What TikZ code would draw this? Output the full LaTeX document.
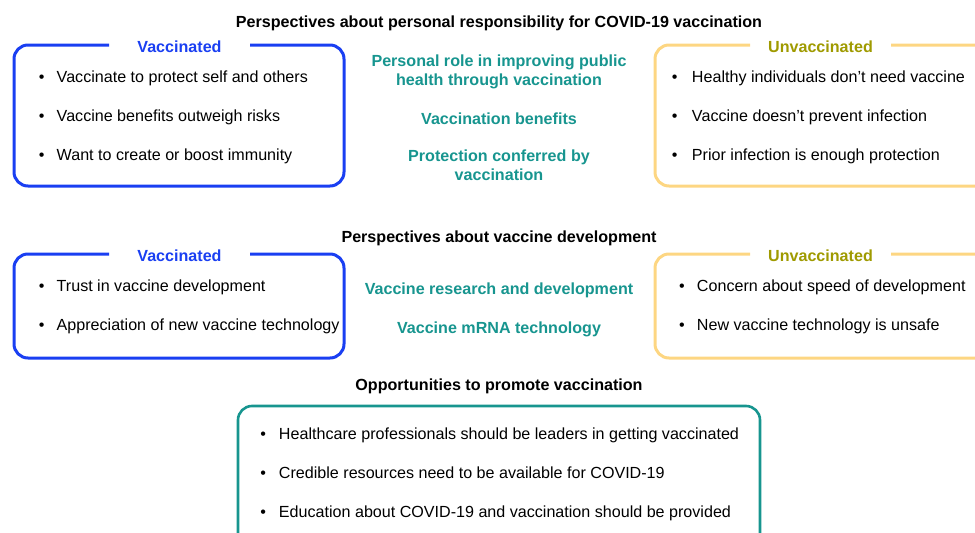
\documentclass[tikz,border=0pt]{standalone}
\usepackage{fontspec}
\setmainfont{Liberation Sans}
\definecolor{vblue}{HTML}{1A3FF2}
\definecolor{uyellow}{HTML}{FDD682}
\definecolor{uolive}{HTML}{9F9A00}
\definecolor{tealc}{HTML}{17958F}
\newcommand{\bul}[1][12.2pt]{\llap{\textbullet\hspace{#1}}}
\begin{document}
\begin{tikzpicture}[x=1pt,y=-1pt,
  every node/.style={inner sep=0pt, outer sep=0pt, font=\fontsize{16.1}{19}\selectfont},
  titletext/.style={anchor=base, font=\fontsize{16.1}{19}\selectfont\bfseries, text=black},
  themetext/.style={anchor=base, font=\fontsize{16.1}{19}\selectfont\bfseries, text=tealc},
  vlabel/.style={anchor=base, font=\fontsize{16.1}{19}\selectfont\bfseries, text=vblue},
  ulabel/.style={anchor=base, font=\fontsize{16.1}{19}\selectfont\bfseries, text=uolive},
  item/.style={anchor=base west, text=black},
  vbox/.style={draw=vblue, line width=3pt, rounded corners=14pt},
  ubox/.style={draw=uyellow, line width=3pt, rounded corners=14pt},
  tbox/.style={draw=tealc, line width=2.6pt, rounded corners=14pt}]
\useasboundingbox (0,0) rectangle (975,533);
\clip (0,0) rectangle (975,533);

% Section 1
\node[titletext] (t1) at (499,27.5) {Perspectives about personal responsibility for COVID-19 vaccination};
\draw[vbox] (250,45) -| (344,186) -| (14,45) -- (109,45);
\node[vlabel] (v1) at (179.5,52.3) {Vaccinated};
\node[item] (v1a) at (56.7,82.3) {\bul Vaccinate to protect self and others};
\node[item] (v1b) at (56.7,121.7) {\bul Vaccine benefits outweigh risks};
\node[item] (v1c) at (56.7,160.7) {\bul Want to create or boost immunity};

\draw[ubox] (891,45) -- (995,45) -- (995,186) -| (655,45) -- (750,45);
\node[ulabel] (u1) at (820.5,52.3) {Unvaccinated};
\node[item] (u1a) at (692,82.3) {\bul[14.5pt]Healthy individuals don’t need vaccine};
\node[item] (u1b) at (692,121.7) {\bul[14.5pt]Vaccine doesn’t prevent infection};
\node[item] (u1c) at (692,160.7) {\bul[14.5pt]Prior infection is enough protection};

\node[themetext] (m1a) at (499,66.7) {Personal role in improving public};
\node[themetext] (m1b) at (499,85.2) {health through vaccination};
\node[themetext] (m1c) at (499,124) {Vaccination benefits};
\node[themetext] (m1d) at (499,161.7) {Protection conferred by};
\node[themetext] (m1e) at (499,180.2) {vaccination};

% Section 2
\node[titletext] (t2) at (499,242.3) {Perspectives about vaccine development};
\draw[vbox] (250,254) -| (344,358) -| (14,254) -- (109,254);
\node[vlabel] (v2) at (179.5,261) {Vaccinated};
\node[item] (v2a) at (56.7,291.7) {\bul Trust in vaccine development};
\node[item] (v2b) at (56.7,330.7) {\bul Appreciation of new vaccine technology};

\draw[ubox] (891,254) -- (995,254) -- (995,358) -| (655,254) -- (750,254);
\node[ulabel] (u2) at (820.5,261) {Unvaccinated};
\node[item] (u2a) at (697,291.7) {\bul Concern about speed of development};
\node[item] (u2b) at (697,330.7) {\bul New vaccine technology is unsafe};

\node[themetext] (m2a) at (499,294.3) {Vaccine research and development};
\node[themetext] (m2b) at (499,333.3) {Vaccine mRNA technology};

% Section 3
\node[titletext] (t3) at (499,390) {Opportunities to promote vaccination};
\draw[tbox] (238,406) rectangle (760,550);
\node[item] (o1) at (279,439.3) {\bul[13pt]Healthcare professionals should be leaders in getting vaccinated};
\node[item] (o2) at (279,478.3) {\bul[13pt]Credible resources need to be available for COVID-19};
\node[item] (o3) at (279,517) {\bul[13pt]Education about COVID-19 and vaccination should be provided};
\end{tikzpicture}
\end{document}
